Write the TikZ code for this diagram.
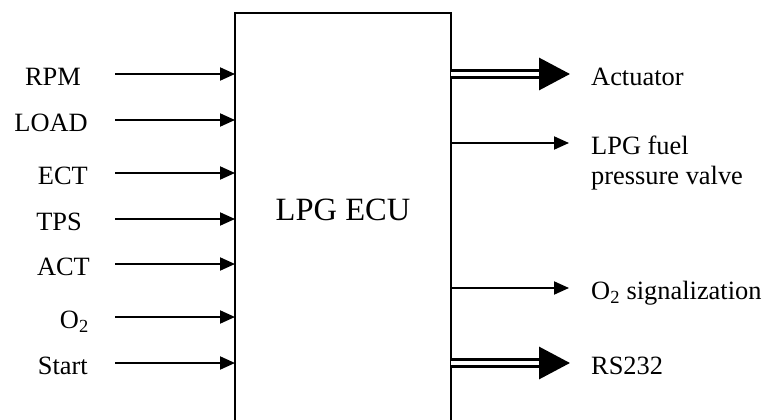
\documentclass[tikz,border=0pt]{standalone}
\usepackage{fontspec}
\setmainfont{Liberation Serif}
\usetikzlibrary{shapes,arrows.meta,positioning,calc}

\tikzset{
    sig/.style={line width=2pt,-{Triangle[length=15pt,width=13pt]}},
    bus/.style={line width=3.2pt,double,double distance=3.2pt,-{Triangle[length=31pt,width=32pt]}},
    inlbl/.style={font=\fontsize{26.4pt}{30.3pt}\selectfont,inner sep=0pt,anchor=base east},
    outlbl/.style={font=\fontsize{26.4pt}{30.3pt}\selectfont,inner sep=0pt,anchor=base west,align=left},
}

\begin{document}
\begin{tikzpicture}[x=1pt,y=-1pt]
    \useasboundingbox (0,0) rectangle (763,420);
    \clip (0,0) rectangle (763,420);

    \node[draw,line width=2pt,minimum width=216pt,minimum height=430pt,inner sep=0pt,outer sep=0pt,anchor=north] (ecu) at (343,13) {};
    \node[font=\fontsize{32.5pt}{36pt}\selectfont] (ecutxt) at (343,210) {LPG ECU};

    \foreach \name/\y/\x/\txt in {rpm/74/81/RPM, load/120/88/LOAD, ect/173/88/ECT, tps/219/82/TPS, act/264/90/ACT, otwo/317/89/O\textsubscript{2}, start/363/88/Start} {
        \coordinate (\name) at (115,\y);
        \node[inlbl] (\name lbl) at (\x,\y+11.5) {\txt};
        \draw[sig] (\name) -- (\name -| ecu.west);
    }

    % base of a two-line node sits on its last line
    \foreach \name/\y/\dy/\txt in {fuelvalve/143/41.8/LPG fuel\\pressure valve, otwosig/288/11.5/O\textsubscript{2} signalization} {
        \coordinate (\name) at (569,\y);
        \node[outlbl] (\name lbl) at ($(\name)+(22,\dy)$) {\txt};
        \draw[sig] (\name -| ecu.east) -- (\name);
    }

    \foreach \name/\y/\txt in {actuator/74/Actuator, rs/363/RS232} {
        \coordinate (\name) at (570,\y);
        \node[outlbl] (\name lbl) at ($(\name)+(21,11.5)$) {\txt};
        \draw[bus] (\name -| ecu.east) -- (\name);
    }
\end{tikzpicture}
\end{document}
